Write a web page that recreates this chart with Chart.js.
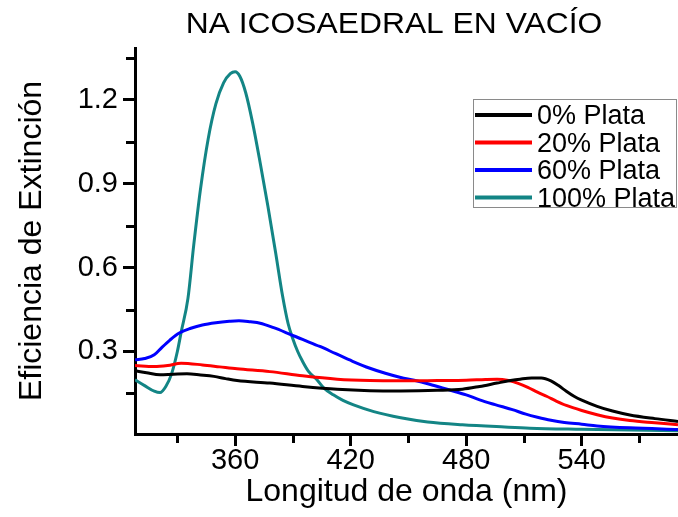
<!DOCTYPE html>
<html>
<head>
<meta charset="utf-8">
<script src="https://cdn.jsdelivr.net/npm/chart.js@4/dist/chart.umd.min.js"></script>
<style>
html,body{margin:0;padding:0;background:#fff;}
#wrap{width:678px;height:517px;position:relative;}
</style>
</head>
<body>
<div id="wrap"><canvas id="c" width="678" height="517"></canvas></div>
<script>
// ---- text ----
const chartTitle = "NA ICOSAEDRAL EN VACÍO";
const xTitle = "Longitud de onda (nm)";
const yTitle = "Eficiencia de Extinción";
const seriesNames = ["0% Plata", "20% Plata", "60% Plata", "100% Plata"];
const seriesColors = ["#000000", "#ff0000", "#0000ff", "#138585"];

// ---- axes ----
const xMin = 308, xMax = 590;
const yMin = 0.005, yMax = 1.385;
const xMajorTicks = [360, 420, 480, 540];
const xMinorTicks = [330, 390, 450, 510, 570];
const yMajorTicks = [0.3, 0.6, 0.9, 1.2];
const yMinorTicks = [0.15, 0.45, 0.75, 1.05, 1.35];

// ---- data ----
const waveBlack = [308, 314, 321, 328, 335, 342, 349, 355, 361, 378, 395, 413, 430, 446, 465, 478, 487, 496, 503, 508, 514, 519, 524, 528, 532, 536, 540, 548, 556, 565, 578, 590];
const effBlack  = [0.231, 0.224, 0.217, 0.219, 0.220, 0.216, 0.211, 0.203, 0.196, 0.187, 0.175, 0.165, 0.160, 0.159, 0.161, 0.165, 0.175, 0.187, 0.196, 0.201, 0.205, 0.205, 0.195, 0.178, 0.158, 0.140, 0.126, 0.104, 0.087, 0.073, 0.060, 0.050];

const waveRed = [308, 318, 325, 332, 343, 352, 361, 378, 395, 413, 430, 446, 465, 480, 490, 496, 502, 507, 512, 517, 522, 527, 532, 540, 548, 556, 565, 578, 590];
const effRed  = [0.250, 0.246, 0.250, 0.258, 0.252, 0.245, 0.238, 0.228, 0.213, 0.201, 0.196, 0.195, 0.196, 0.197, 0.200, 0.201, 0.196, 0.186, 0.172, 0.155, 0.139, 0.122, 0.107, 0.089, 0.074, 0.062, 0.053, 0.045, 0.038];

const waveBlue = [308, 313, 318, 322, 326, 331, 337, 343, 350, 357, 362, 368, 373, 380, 387, 395, 404, 412, 421, 430, 438, 446, 453, 461, 471, 480, 487, 495, 504, 511, 517, 524, 531, 540, 548, 565, 590];
const effBlue  = [0.270, 0.275, 0.288, 0.315, 0.340, 0.366, 0.383, 0.395, 0.403, 0.408, 0.410, 0.406, 0.401, 0.385, 0.366, 0.343, 0.318, 0.293, 0.265, 0.240, 0.222, 0.207, 0.197, 0.183, 0.163, 0.145, 0.127, 0.110, 0.092, 0.076, 0.065, 0.054, 0.046, 0.040, 0.034, 0.027, 0.021];

const waveTeal = [308, 313, 318, 321, 324, 327, 330, 332, 335.5, 338.5, 342, 346, 350, 354, 357.5, 360, 362.5, 365.5, 369, 373, 377, 381, 384.6, 387.5, 390, 392.5, 395, 398, 402.5, 406, 411, 416, 421.5, 432, 446, 460, 478, 500, 513, 540, 565, 590];
const effTeal  = [0.199, 0.178, 0.158, 0.153, 0.175, 0.220, 0.300, 0.370, 0.490, 0.680, 0.880, 1.060, 1.185, 1.260, 1.293, 1.300, 1.283, 1.225, 1.120, 0.975, 0.820, 0.655, 0.500, 0.400, 0.345, 0.300, 0.265, 0.230, 0.199, 0.170, 0.145, 0.125, 0.109, 0.085, 0.063, 0.048, 0.038, 0.030, 0.026, 0.022, 0.019, 0.017];

const seriesX = [waveBlack, waveRed, waveBlue, waveTeal];
const seriesY = [effBlack, effRed, effBlue, effTeal];

const FONT = "'Liberation Sans', Arial, Helvetica, sans-serif";

const datasets = seriesNames.map((name, k) => ({
  label: name,
  data: seriesX[k].map((x, i) => ({x: x, y: seriesY[k][i]})),
  borderColor: seriesColors[k],
  backgroundColor: seriesColors[k],
  borderWidth: 3,
  pointRadius: 0,
  cubicInterpolationMode: 'monotone',
  fill: false
}));

// Title drawn as canvas text
const titlePlugin = {
  id: 'topTitle',
  afterDraw(chart) {
    const ctx = chart.ctx;
    ctx.save();
    ctx.fillStyle = '#000';
    ctx.font = "30px " + FONT;
    ctx.textAlign = 'center';
    ctx.textBaseline = 'alphabetic';
    ctx.translate(394, 33);
    ctx.scale(1.06, 1);
    ctx.fillText(chartTitle, 0, 0);
    ctx.restore();
  }
};

// minor ticks through the scales
const minorTickPlugin = {
  id: 'minorTicks',
  afterDraw(chart) {
    const ctx = chart.ctx, xs = chart.scales.x, ys = chart.scales.y, ca = chart.chartArea;
    ctx.save();
    ctx.strokeStyle = '#000';
    ctx.lineWidth = 3;
    ctx.beginPath();
    xMinorTicks.forEach(v => {
      const px = Math.round(xs.getPixelForValue(v)) + 0.5;
      ctx.moveTo(px, ca.bottom);
      ctx.lineTo(px, ca.bottom + 9);
    });
    yMinorTicks.forEach(v => {
      const py = Math.round(ys.getPixelForValue(v)) + 0.5;
      ctx.moveTo(ca.left - 9, py);
      ctx.lineTo(ca.left, py);
    });
    ctx.stroke();
    ctx.restore();
  }
};

// boxed legend inside plot
const legendPlugin = {
  id: 'boxLegend',
  afterDraw(chart) {
    const ctx = chart.ctx;
    const left = 473, top = 99, w = 203, h = 108;
    ctx.save();
    ctx.fillStyle = '#fff';
    ctx.fillRect(left, top, w, h);
    ctx.strokeStyle = '#8a8a8a';
    ctx.lineWidth = 1;
    ctx.strokeRect(left + 0.5, top + 0.5, w, h);
    ctx.font = "27px " + FONT;
    ctx.textAlign = 'left';
    ctx.textBaseline = 'alphabetic';
    chart.data.datasets.forEach((ds, i) => {
      const cy = top + 16 + i * 27.5;
      ctx.strokeStyle = ds.borderColor;
      ctx.lineWidth = 4;
      ctx.beginPath();
      ctx.moveTo(left + 2, cy);
      ctx.lineTo(left + 59, cy);
      ctx.stroke();
      ctx.fillStyle = '#000';
      ctx.fillText(ds.label, left + 64, cy + 9);
    });
    ctx.restore();
  }
};

new Chart(document.getElementById('c'), {
  type: 'line',
  data: { datasets: datasets },
  plugins: [titlePlugin, minorTickPlugin, legendPlugin],
  options: {
    responsive: false,
    animation: false,
    devicePixelRatio: 1,
    layout: { padding: { top: 48, left: 0, right: 0, bottom: 0 } },
    plugins: {
      legend: { display: false },
      title: { display: false },
      tooltip: { enabled: false }
    },
    scales: {
      x: {
        type: 'linear',
        min: xMin, max: xMax,
        afterBuildTicks: s => { s.ticks = xMajorTicks.map(v => ({value: v})); },
        afterFit: s => { s.height = 83; },
        grid: { display: true, drawOnChartArea: false, drawTicks: true, tickLength: 12, tickWidth: 3, tickColor: '#000', lineWidth: 3, color: '#000' },
        border: { display: true, width: 3, color: '#000' },
        ticks: {
          color: '#000', padding: 0, maxRotation: 0, autoSkip: false,
          font: { family: FONT, size: 29, lineHeight: 1 },
          callback: v => String(v)
        },
        title: {
          display: true, text: xTitle, color: '#000',
          font: { family: FONT, size: 32, lineHeight: 1.2 },
          padding: { top: 0, bottom: 6 }
        }
      },
      y: {
        type: 'linear',
        min: yMin, max: yMax,
        afterBuildTicks: s => { s.ticks = yMajorTicks.map(v => ({value: v})); },
        afterFit: s => { s.width = 135; },
        grid: { display: true, drawOnChartArea: false, drawTicks: true, tickLength: 12, tickWidth: 3, tickColor: '#000', lineWidth: 3, color: '#000' },
        border: { display: true, width: 3, color: '#000' },
        ticks: {
          color: '#000', padding: 5, autoSkip: false,
          font: { family: FONT, size: 29, lineHeight: 1.2 },
          callback: v => Number(v).toFixed(1)
        },
        title: {
          display: true, text: yTitle, color: '#000',
          font: { family: FONT, size: 32, lineHeight: 1.2 },
          padding: { top: 13, bottom: 0 }
        }
      }
    }
  }
});
</script>
</body>
</html>
